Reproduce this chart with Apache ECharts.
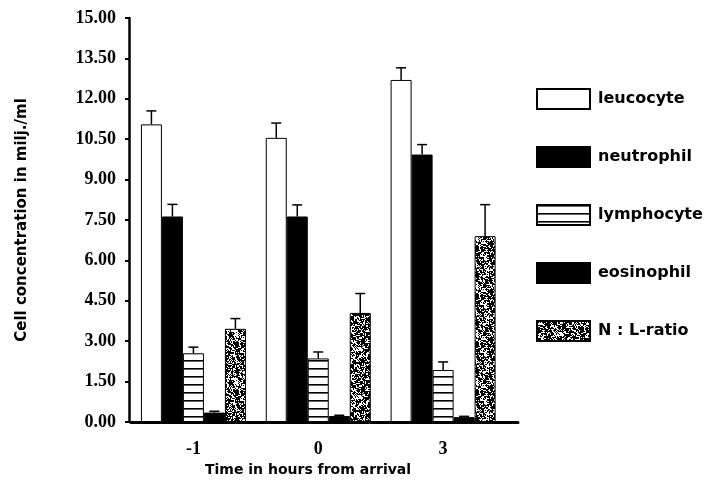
<!DOCTYPE html>
<html>
<head>
<meta charset="utf-8">
<script src="https://cdn.jsdelivr.net/npm/echarts@6/dist/echarts.min.js"></script>
<style>html,body{margin:0;padding:0;background:#fff}#c{width:708px;height:487px}</style>
</head>
<body>
<div id="c"></div>
<script>
var categories = ['-1', '0', '3'];
var seriesNames = ['leucocyte', 'neutrophil', 'lymphocyte', 'eosinophil', 'N : L-ratio'];
var leucocyte = [11.05, 10.55, 12.70];
var neutrophil = [7.63, 7.63, 9.93];
var lymphocyte = [2.55, 2.36, 1.93];
var eosinophil = [0.35, 0.22, 0.18];
var nlRatio = [3.46, 4.05, 6.90];
var leucocyteErr = [0.50, 0.55, 0.45];
var neutrophilErr = [0.45, 0.43, 0.37];
var lymphocyteErr = [0.23, 0.24, 0.30];
var eosinophilErr = [0.05, 0.03, 0.03];
var nlRatioErr = [0.38, 0.72, 1.17];
var yTicks = [0, 1.5, 3, 4.5, 6, 7.5, 9, 10.5, 12, 13.5, 15];

// patterns
function linePattern() {
  var c = document.createElement('canvas');
  c.width = 8; c.height = 8;
  var g = c.getContext('2d');
  g.fillStyle = '#fff'; g.fillRect(0, 0, 8, 8);
  g.fillStyle = '#000'; g.fillRect(0, 0, 8, 1.6);
  return c;
}
function stipplePattern() {
  var n = 48;
  var c = document.createElement('canvas');
  c.width = n; c.height = n;
  var g = c.getContext('2d');
  g.fillStyle = '#fff'; g.fillRect(0, 0, n, n);
  g.fillStyle = '#000';
  var s = 12345;
  function rnd() { s = (s * 1103515245 + 12345) & 0x7fffffff; return s / 0x7fffffff; }
  for (var y = 0; y < n; y++) {
    for (var x = 0; x < n; x++) {
      var r = rnd();
      if (r < 0.42) g.fillRect(x, y, 1, 1);
      else if (r < 0.5) g.fillRect(x, y, 2, 2);
    }
  }
  return c;
}
var linePat = { image: linePattern(), repeat: 'repeat' };
var stipPat = { image: stipplePattern(), repeat: 'repeat' };

var values = [leucocyte, neutrophil, lymphocyte, eosinophil, nlRatio];
var errs = [leucocyteErr, neutrophilErr, lymphocyteErr, eosinophilErr, nlRatioErr];
var styles = [
  { color: '#fff', borderColor: '#000', borderWidth: 1 },
  { color: '#000', borderColor: '#000', borderWidth: 1 },
  { color: linePat, borderColor: '#000', borderWidth: 1 },
  { color: '#000', borderColor: '#000', borderWidth: 1 },
  { color: stipPat, borderColor: '#000', borderWidth: 1 }
];
var BW = 21;

var series = [];
values.forEach(function (arr, k) {
  series.push({
    name: seriesNames[k], type: 'bar', barWidth: BW, barGap: '0%',
    itemStyle: styles[k], silent: true,
    data: arr.map(function (v, i) { return [i, v]; })
  });
});
values.forEach(function (arr, k) {
  series.push({
    type: 'custom', silent: true, z: 3,
    data: arr.map(function (v, i) { return [i, v, errs[k][i]]; }),
    renderItem: function (params, api) {
      var i = api.value(0), v = api.value(1), e = api.value(2);
      var p = api.coord([i, v]);
      var t = api.coord([i, v + e]);
      var x = p[0] + (k - 2) * BW;
      var st = { stroke: '#000', lineWidth: 1.5 };
      return { type: 'group', children: [
        { type: 'line', shape: { x1: x, y1: p[1], x2: x, y2: t[1] }, style: st },
        { type: 'line', shape: { x1: x - 5, y1: t[1], x2: x + 5, y2: t[1] }, style: st }
      ] };
    }
  });
});

var chart = echarts.init(document.getElementById('c'), null, { renderer: 'canvas' });
chart.setOption({
  animation: false,
  backgroundColor: '#fff',
  grid: { left: 131, right: 190, top: 18, bottom: 65 },
  xAxis: {
    type: 'value', min: -0.5, max: 2.6,
    splitLine: { show: false },
    axisLine: { show: true, onZero: false, lineStyle: { color: '#000', width: 3 } },
    axisTick: { show: false },
    axisLabel: {
      customValues: [0, 1, 2],
      formatter: function (v) { return categories[Math.round(v)]; },
      color: '#000', fontFamily: 'Liberation Serif', fontWeight: 'bold', fontSize: 18, margin: 18
    }
  },
  yAxis: {
    type: 'value', min: 0, max: 15, interval: 1.5, offset: 2,
    splitLine: { show: false },
    axisLine: { show: true, onZero: false, lineStyle: { color: '#000', width: 2.5 } },
    axisTick: { show: true, length: 4, lineStyle: { color: '#000', width: 2 } },
    axisLabel: {
      customValues: yTicks,
      formatter: function (v) { return v.toFixed(2); },
      color: '#000', fontFamily: 'Liberation Serif', fontWeight: 'bold', fontSize: 18, margin: 13
    }
  },
  legend: {
    data: seriesNames, orient: 'vertical', left: 531, top: 83,
    itemWidth: 53, itemHeight: 20, itemGap: 36, icon: 'rect',
    selectedMode: false,
    textStyle: { color: '#000', fontFamily: 'DejaVu Sans', fontWeight: 'bold', fontSize: 16, padding: [0, 0, 0, 3] }
  },
  graphic: [
    { type: 'text', left: 205, top: 463,
      style: { text: 'Time in hours from arrival', fill: '#000', font: 'bold 14px "DejaVu Sans"' } },
    { type: 'text', x: 22, y: 220, rotation: Math.PI / 2,
      style: { text: 'Cell concentration in milj./ml', fill: '#000', font: 'bold 15px "DejaVu Sans"', align: 'center', verticalAlign: 'middle' } }
  ],
  series: series
});
</script>
</body>
</html>
